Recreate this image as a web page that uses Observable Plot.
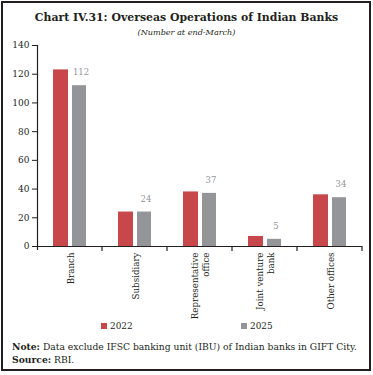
<!DOCTYPE html>
<html>
<head>
<meta charset="utf-8">
<script src="https://cdn.jsdelivr.net/npm/d3@7"></script>
<script src="https://cdn.jsdelivr.net/npm/@observablehq/plot@0.6"></script>
<style>
  html, body { margin: 0; padding: 0; background: #fff; }
  #wrap { position: relative; width: 373px; height: 375px; overflow: hidden; font-family: "DejaVu Serif", serif; color: #231f20; }
  #frame { position: absolute; left: 1px; top: 1px; width: 366px; height: 366px; border: 2px solid #231f20; }
  #title { position: absolute; left: 0; width: 373px; top: 11px; text-align: center; font-weight: bold; font-size: 10.9px; }
  #subtitle { position: absolute; left: 0; width: 373px; top: 27px; text-align: center; font-style: italic; font-size: 8.1px; }
  #chart { position: absolute; left: 0; top: 38px; }
  #legend { position: absolute; top: 321px; left: 0; width: 373px; font-size: 8.9px; }
  .lg { position: absolute; display: flex; align-items: center; }
  .sw { width: 6px; height: 6px; margin-right: 3px; }
  #note { position: absolute; left: 12px; top: 341px; font-size: 9.2px; line-height: 12.5px; white-space: nowrap; }
</style>
</head>
<body>
<div id="wrap">
  <div id="frame"></div>
  <div id="title">Chart IV.31: Overseas Operations of Indian Banks</div>
  <div id="subtitle">(Number at end-March)</div>
  <div id="chart"></div>
  <div id="legend"></div>
  <div id="note"><b>Note:</b> Data exclude IFSC banking unit (IBU) of Indian banks in GIFT City.<br><b>Source:</b> RBI.</div>
</div>
<script>
const categories = ["Branch", "Subsidiary", "Representative\noffice", "Joint venture\nbank", "Other offices"];
const years = ["2022", "2025"];
const values2022 = [123, 24, 38, 7, 36];
const values2025 = [112, 24, 37, 5, 34];
const yTicks = [0, 20, 40, 60, 80, 100, 120, 140];
const colors = ["#c8474b", "#939598"];

const d2022 = categories.map((c, i) => ({category: c, year: "2022", value: values2022[i]}));
const d2025 = categories.map((c, i) => ({category: c, year: "2025", value: values2025[i]}));

// axis lines and boundary ticks
function axes(index, scales, values, dim) {
  const x = scales.x, y = scales.y;
  const g = d3.create("svg:g").attr("stroke", "#231f20").attr("fill", "none");
  const left = dim.marginLeft;
  g.append("line").attr("x1", left + 0.5).attr("x2", left + 0.5)
    .attr("y1", y(140)).attr("y2", y(0) + 4).attr("stroke-width", 1.2);
  const bw = x.bandwidth();
  const edges = categories.map(c => x(c) + bw);
  edges.forEach(e => {
    g.append("line").attr("x1", e).attr("x2", e).attr("y1", y(0)).attr("y2", y(0) + 5).attr("stroke-width", 1.2);
  });
  return g.node();
}

const chart = Plot.plot({
  width: 373,
  height: 288,
  marginLeft: 37,
  marginRight: 11,
  marginTop: 7,
  marginBottom: 80,
  style: {fontFamily: "DejaVu Serif, serif", fontSize: "8.7px", color: "#231f20", background: "transparent"},
  x: {domain: categories, padding: 0},
  y: {domain: [0, 140]},
  marks: [
    Plot.barY(d2022, {x: "category", y: "value", fill: colors[0], insetLeft: 16, insetRight: 34}),
    Plot.barY(d2025, {x: "category", y: "value", fill: colors[1], insetLeft: 35, insetRight: 16}),
    Plot.text(d2025, {x: "category", y: "value", text: d => String(d.value), dx: 11, dy: -13, fill: "#939598", fontSize: 8.5, letterSpacing: "0.4px"}),
    Plot.ruleY([0], {stroke: "#231f20", strokeWidth: 1.2}),
    Plot.axisY({ticks: yTicks, tickSize: 5, tickPadding: 3, label: null, fontSize: 9}),
    Plot.axisX({tickSize: 0, tickPadding: 6, tickRotate: -90, label: null, lineHeight: 1.3, fontSize: 8.7}),
    axes
  ]
});
document.getElementById("chart").appendChild(chart);

const legend = document.getElementById("legend");
const lgX = [101, 241];
years.forEach((yr, i) => {
  const el = document.createElement("div");
  el.className = "lg";
  el.style.left = lgX[i] + "px";
  el.innerHTML = `<span class="sw" style="background:${colors[i]}"></span><span>${yr}</span>`;
  legend.appendChild(el);
});
</script>
</body>
</html>
